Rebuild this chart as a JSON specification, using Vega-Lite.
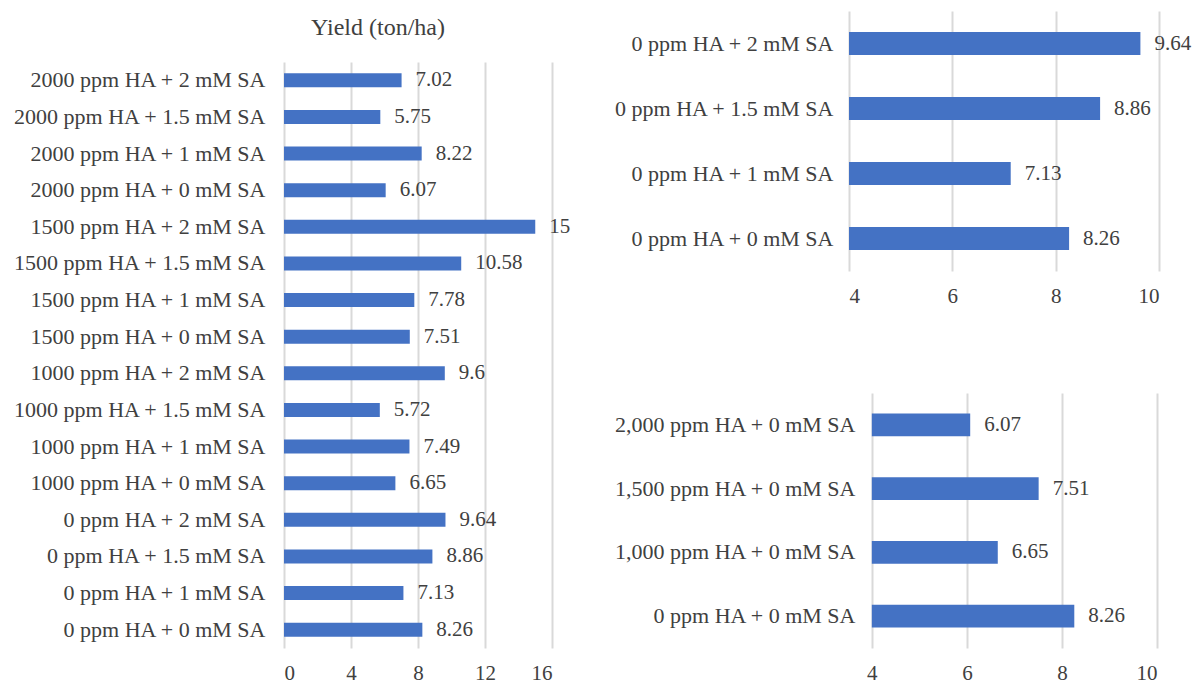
{
  "$schema": "https://vega.github.io/schema/vega-lite/v6.json",
  "autosize": {"type": "none"},
  "padding": {"left": 284, "top": 11, "right": 909, "bottom": 675},
  "background": "white",
  "datasets": {
    "all": [
      {"treatment": "2000 ppm HA + 2 mM SA", "yield": 7.02},
      {"treatment": "2000 ppm HA + 1.5 mM SA", "yield": 5.75},
      {"treatment": "2000 ppm HA + 1 mM SA", "yield": 8.22},
      {"treatment": "2000 ppm HA + 0 mM SA", "yield": 6.07},
      {"treatment": "1500 ppm HA + 2 mM SA", "yield": 15},
      {"treatment": "1500 ppm HA + 1.5 mM SA", "yield": 10.58},
      {"treatment": "1500 ppm HA + 1 mM SA", "yield": 7.78},
      {"treatment": "1500 ppm HA + 0 mM SA", "yield": 7.51},
      {"treatment": "1000 ppm HA + 2 mM SA", "yield": 9.6},
      {"treatment": "1000 ppm HA + 1.5 mM SA", "yield": 5.72},
      {"treatment": "1000 ppm HA + 1 mM SA", "yield": 7.49},
      {"treatment": "1000 ppm HA + 0 mM SA", "yield": 6.65},
      {"treatment": "0 ppm HA + 2 mM SA", "yield": 9.64},
      {"treatment": "0 ppm HA + 1.5 mM SA", "yield": 8.86},
      {"treatment": "0 ppm HA + 1 mM SA", "yield": 7.13},
      {"treatment": "0 ppm HA + 0 mM SA", "yield": 8.26}
    ],
    "sa": [
      {"treatment": "0 ppm HA + 2 mM SA", "yield": 9.64},
      {"treatment": "0 ppm HA + 1.5 mM SA", "yield": 8.86},
      {"treatment": "0 ppm HA + 1 mM SA", "yield": 7.13},
      {"treatment": "0 ppm HA + 0 mM SA", "yield": 8.26}
    ],
    "ha": [
      {"treatment": "2,000 ppm HA + 0 mM SA", "yield": 6.07},
      {"treatment": "1,500 ppm HA + 0 mM SA", "yield": 7.51},
      {"treatment": "1,000 ppm HA + 0 mM SA", "yield": 6.65},
      {"treatment": "0 ppm HA + 0 mM SA", "yield": 8.26}
    ]
  },
  "hconcat": [
    {
      "vconcat": [
        {
          "width": 268,
          "height": 1,
          "data": {"values": []},
          "mark": "point"
        },
        {
          "width": 268,
          "height": 586,
          "title": {"text": "Yield (ton/ha)", "fontSize": 24, "fontWeight": "normal", "color": "#404040", "offset": 24, "dx": -40, "dy": 26, "baseline": "bottom"},
          "data": {"name": "all"},
          "encoding": {
            "y": {"field": "treatment", "type": "nominal", "sort": null,
                  "scale": {"paddingInner": 0.62, "paddingOuter": 0.31},
                  "axis": {"title": null, "labelPadding": 19}}
          },
          "layer": [
            {
              "mark": {"type": "bar", "color": "#4472C4"},
              "encoding": {
                "x": {"field": "yield", "type": "quantitative",
                      "scale": {"domain": [0, 16], "nice": false},
                      "axis": {"title": null, "values": [0, 4, 8, 12, 16]}}
              }
            },
            {
              "mark": {"type": "text", "align": "left", "baseline": "middle", "dx": 14, "fontSize": 21, "color": "#404040"},
              "encoding": {
                "x": {"field": "yield", "type": "quantitative"},
                "text": {"field": "yield", "type": "quantitative"}
              }
            }
          ]
        }
      ],
      "spacing": 50,
      "bounds": "flush"
    },
    {
      "vconcat": [
        {
          "width": 310,
          "height": 260,
          "data": {"name": "sa"},
          "encoding": {
            "y": {"field": "treatment", "type": "nominal", "sort": null,
                  "scale": {"paddingInner": 0.646, "paddingOuter": 0.323},
                  "axis": {"title": null, "labelPadding": 16}}
          },
          "layer": [
            {
              "mark": {"type": "bar", "color": "#4472C4"},
              "encoding": {
                "x": {"field": "yield", "type": "quantitative",
                      "scale": {"domain": [4, 10], "nice": false, "zero": false},
                      "axis": {"title": null, "values": [4, 6, 8, 10]}},
                "x2": {"datum": 4}
              }
            },
            {
              "mark": {"type": "text", "align": "left", "baseline": "middle", "dx": 14, "fontSize": 21, "color": "#404040"},
              "encoding": {
                "x": {"field": "yield", "type": "quantitative"},
                "text": {"field": "yield", "type": "quantitative"}
              }
            }
          ]
        },
        {
          "width": 308,
          "height": 255,
          "data": {"name": "ha"},
          "encoding": {
            "y": {"field": "treatment", "type": "nominal", "sort": null,
                  "scale": {"paddingInner": 0.647, "paddingOuter": 0.3235},
                  "axis": {"title": null, "labelPadding": 17, "offset": -23}}
          },
          "layer": [
            {
              "mark": {"type": "bar", "color": "#4472C4"},
              "encoding": {
                "x": {"field": "yield", "type": "quantitative",
                      "scale": {"domain": [3.52, 10], "nice": false, "zero": false},
                      "axis": {"title": null, "values": [4, 6, 8, 10]}},
                "x2": {"datum": 4}
              }
            },
            {
              "mark": {"type": "text", "align": "left", "baseline": "middle", "dx": 14, "fontSize": 21, "color": "#404040"},
              "encoding": {
                "x": {"field": "yield", "type": "quantitative"},
                "text": {"field": "yield", "type": "quantitative"}
              }
            }
          ]
        }
      ],
      "spacing": 122,
      "bounds": "flush"
    }
  ],
  "spacing": 565,
  "bounds": "flush",
  "config": {
    "font": "Liberation Serif",
    "view": {"stroke": null},
    "axis": {
      "labelFont": "Liberation Serif",
      "labelFontSize": 21,
      "labelColor": "#404040",
      "labelLimit": 400,
      "domain": false,
      "ticks": false,
      "tickSize": 0,
      "gridColor": "#D9D9D9",
      "gridWidth": 2
    },
    "axisX": {"grid": true, "labelPadding": 14},
    "axisY": {"grid": false, "labelFontSize": 22},
    "title": {"font": "Liberation Serif"}
  }
}
